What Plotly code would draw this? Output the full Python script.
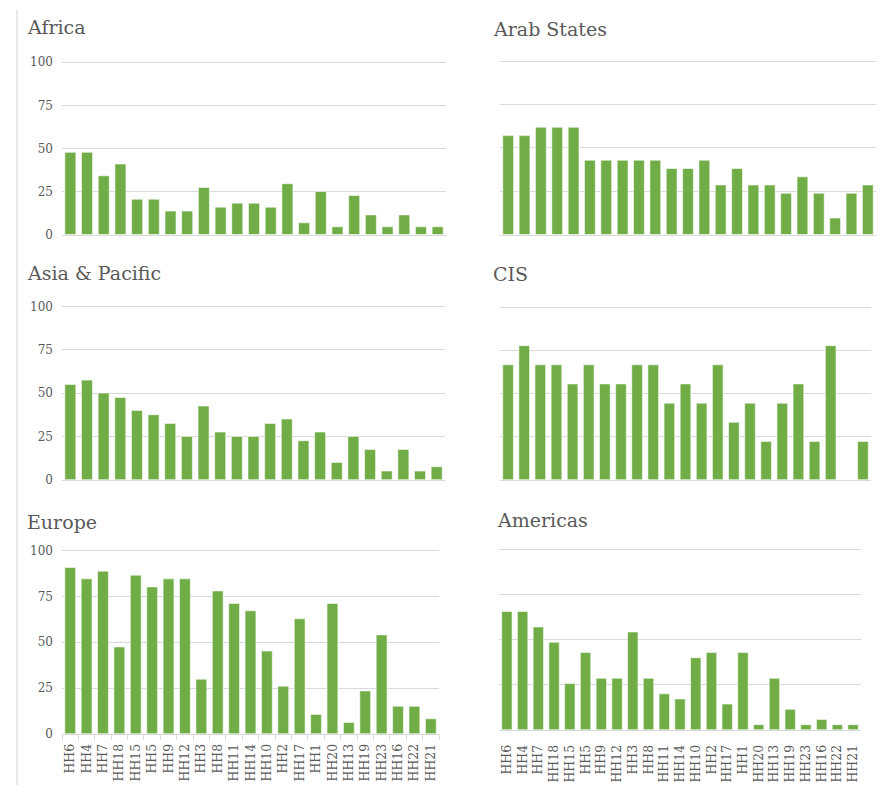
import plotly.graph_objects as go

categories = ["HH6", "HH4", "HH7", "HH18", "HH15", "HH5", "HH9", "HH12", "HH3", "HH8",
              "HH11", "HH14", "HH10", "HH2", "HH17", "HH1", "HH20", "HH13", "HH19", "HH23",
              "HH16", "HH22", "HH21"]

africa = [47.7, 47.7, 34.1, 40.9, 20.5, 20.5, 13.6, 13.6, 27.3, 15.9, 18.2, 18.2,
          15.9, 29.5, 6.8, 25.0, 4.5, 22.7, 11.4, 4.5, 11.4, 4.5, 4.5]
arab_states = [57.1, 57.1, 61.9, 61.9, 61.9, 42.9, 42.9, 42.9, 42.9, 42.9, 38.1, 38.1,
               42.9, 28.6, 38.1, 28.6, 28.6, 23.8, 33.3, 23.8, 9.5, 23.8, 28.6]
asia_pacific = [55.0, 57.5, 50.0, 47.5, 40.0, 37.5, 32.5, 25.0, 42.5, 27.5, 25.0, 25.0,
                32.5, 35.0, 22.5, 27.5, 10.0, 25.0, 17.5, 5.0, 17.5, 5.0, 7.5]
cis = [66.7, 77.8, 66.7, 66.7, 55.6, 66.7, 55.6, 55.6, 66.7, 66.7, 44.4, 55.6,
       44.4, 66.7, 33.3, 44.4, 22.2, 44.4, 55.6, 22.2, 77.8, 0.0, 22.2]
europe = [90.8, 84.6, 88.8, 47.4, 86.6, 80.2, 84.6, 84.6, 29.8, 78.0, 71.2, 67.2,
          45.2, 26.0, 62.8, 10.6, 71.2, 6.2, 23.4, 54.0, 15.0, 15.0, 8.2]
americas = [65.7, 65.7, 57.1, 48.6, 25.7, 42.9, 28.6, 28.6, 54.3, 28.6, 20.0, 17.1,
            40.0, 42.9, 14.3, 42.9, 2.9, 28.6, 11.4, 2.9, 5.7, 2.9, 2.9]

panels = [
    ("Africa", africa),
    ("Arab States", arab_states),
    ("Asia & Pacific", asia_pacific),
    ("CIS", cis),
    ("Europe", europe),
    ("Americas", americas),
]

OFF = 8  # page body margin
W, H = 884 - OFF, 792 - OFF
# target pixel boxes in the picture: (x0, x1, y_at_100, y_at_0)
boxes = [
    (62, 446, 58, 233),
    (500, 876, 57, 233),
    (62, 445, 306, 482),
    (500, 871, 307, 482),
    (62, 439, 554, 740),
    (499, 861, 553, 736),
]
title_pos = [(25, 22), (491, 24), (25, 272), (491, 273), (25, 525), (495, 523)]

GREEN = "#70AD47"
GREY = "#595959"
GRID = "#d9d9d9"
SERIF = "Georgia, 'DejaVu Serif', serif"
YTOP = 101.0


def fx(px):
    return (px - OFF) / W


def fy(py):
    return 1 - (py - OFF) / H


fig = go.Figure()
layout = {}
annotations = []
for i, ((name, vals), (x0, x1, yt, yb)) in enumerate(zip(panels, boxes)):
    n = "" if i == 0 else str(i + 1)
    fig.add_trace(go.Bar(
        x=categories, y=vals, xaxis="x" + n, yaxis="y" + n,
        marker=dict(color=GREEN, line=dict(color="rgba(255,255,255,0.55)", width=1)),
        showlegend=False, name=name,
    ))
    left = (i % 2 == 0)
    bottom = i >= 4
    ytop_px = yt - (yb - yt) * (YTOP - 100) / 100
    layout["xaxis" + n] = dict(
        domain=[fx(x0), fx(x1)], anchor="y" + n,
        type="category", tickmode="array", tickvals=categories, ticktext=categories,
        showticklabels=bottom, tickangle=-90,
        tickfont=dict(family=SERIF, size=12.5, color=GREY),
        ticklabelstandoff=4 if i == 4 else 9,
        showgrid=False, showline=True, linecolor=GRID, linewidth=1,
        ticks="outside" if i == 4 else "", tickson="boundaries",
        ticklen=5, tickcolor=GRID,
        fixedrange=True,
    )
    layout["yaxis" + n] = dict(
        domain=[fy(yb), fy(ytop_px)], anchor="x" + n,
        range=[0, YTOP], tickvals=[0, 25, 50, 75, 100],
        showticklabels=left,
        tickfont=dict(family=SERIF, size=12, color=GREY),
        ticklabelstandoff=8,
        showgrid=True, gridcolor=GRID, gridwidth=1,
        zeroline=False, showline=False,
        fixedrange=True,
    )
    tx, ty = title_pos[i]
    annotations.append(dict(
        text=name, x=fx(tx), y=fy(ty), xref="paper", yref="paper",
        xanchor="left", yanchor="middle", showarrow=False,
        font=dict(family=SERIF, size=19, color=GREY),
    ))

fig.update_layout(
    **layout,
    annotations=annotations,
    width=W, height=H,
    margin=dict(l=0, r=0, t=0, b=0),
    paper_bgcolor="white", plot_bgcolor="white",
    bargap=0.34,
    shapes=[dict(type="line", xref="paper", yref="paper",
                 x0=fx(17), x1=fx(17), y0=0, y1=fy(5),
                 line=dict(color="#d0d0d0", width=1))],
)

fig.write_html("out.html")
